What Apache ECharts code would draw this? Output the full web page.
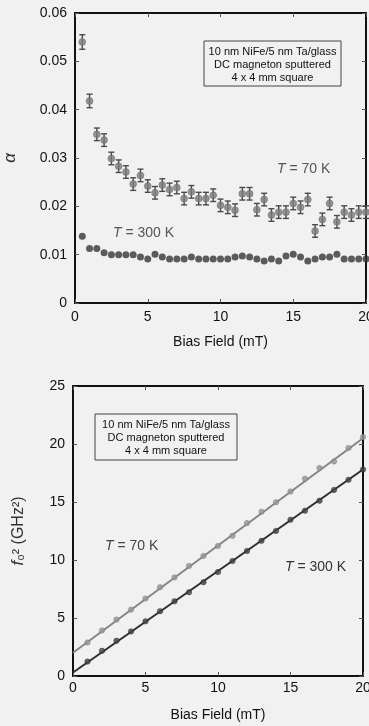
<!DOCTYPE html>
<html>
<head>
<meta charset="utf-8">
<script src="https://cdn.jsdelivr.net/npm/echarts@6/dist/echarts.min.js"></script>
<style>
html,body{margin:0;padding:0;background:#f1f1f1;}
#c{width:369px;height:726px;}
</style>
</head>
<body>
<div id="c"></div>
<script>
// ---- Top panel: damping alpha vs bias field ----
var biasTop = [0.5,1,1.5,2,2.5,3,3.5,4,4.5,5,5.5,6,6.5,7,7.5,8,8.5,9,9.5,10,
               10.5,11,11.5,12,12.5,13,13.5,14,14.5,15,15.5,16,16.5,17,17.5,18,18.5,19,19.5,20];
var alpha70 = [0.054,0.0418,0.0349,0.0337,0.0299,0.0283,0.0271,0.0246,0.0264,0.0242,
               0.0228,0.0244,0.0235,0.0239,0.0216,0.023,0.0216,0.0216,0.0223,0.0202,
               0.0198,0.0192,0.0226,0.0226,0.0193,0.0214,0.0182,0.0188,0.0188,0.0206,
               0.0198,0.0214,0.0149,0.0173,0.0206,0.0168,0.0188,0.0182,0.0188,0.0188];
var err70 = [0.0015,0.0014,0.0013,0.0013,0.0013,0.0013,0.0013,0.0013,0.0013,0.0013,
             0.0013,0.0013,0.0013,0.0013,0.0013,0.0013,0.0013,0.0013,0.0013,0.0013,
             0.0013,0.0013,0.0013,0.0013,0.0013,0.0013,0.0013,0.0013,0.0013,0.0013,
             0.0013,0.0013,0.0013,0.0013,0.0013,0.0013,0.0013,0.0013,0.0013,0.0013];
var alpha300 = [0.0138,0.0113,0.0113,0.0104,0.0100,0.0100,0.0100,0.0100,0.0095,0.0091,
                0.0101,0.0095,0.0091,0.0091,0.0091,0.0095,0.0091,0.0091,0.0091,0.0091,
                0.0091,0.0095,0.0097,0.0095,0.0091,0.0087,0.0091,0.0087,0.0097,0.0101,
                0.0095,0.0087,0.0091,0.0095,0.0095,0.0101,0.0091,0.0091,0.0091,0.0091];

// ---- Bottom panel: f0^2 vs bias field ----
var biasBot = [1,2,3,4,5,6,7,8,9,10,11,12,13,14,15,16,17,18,19,20];
var f2_70  = [2.89,3.93,4.86,5.72,6.68,7.66,8.5,9.48,10.35,11.21,
              12.08,13.18,14.16,14.98,15.9,17.0,17.93,18.5,19.66,20.6];
var f2_300 = [1.24,2.17,3.04,3.84,4.71,5.58,6.44,7.22,8.09,8.96,
              9.91,10.78,11.65,12.51,13.47,14.25,15.11,16.04,16.91,17.8];
var fitX = [0,20];
var fit70 = [2.0,20.5];
var fit300 = [0.3,17.8];

var boxLines = ['10 nm NiFe/5 nm Ta/glass','DC magneton sputtered','4 x 4 mm square'];

var FONT = '"Liberation Sans", Arial, sans-serif';
var chart = echarts.init(document.getElementById('c'), null, {renderer:'canvas'});

function xAx(grid, pos, show, margin) {
  return {
    type:'value', gridIndex:grid, position:pos, min:0, max:20, interval:5,
    axisLine:{show:true, onZero:false, lineStyle:{color:'#111', width:2}},
    axisTick:{show:true, inside:true, length:4, lineStyle:{color:'#555'}},
    axisLabel:{show:show, color:'#111', fontSize:14, fontFamily:FONT, margin:margin||0},
    splitLine:{show:false},
    name: show ? 'Bias Field (mT)' : '', nameLocation:'middle', nameGap:32,
    nameTextStyle:{color:'#111', fontSize:14, fontFamily:FONT}
  };
}
function yAx(grid, pos, show, max, interval, fmt, name, gap) {
  return {
    type:'value', gridIndex:grid, position:pos, min:0, max:max, interval:interval,
    axisLine:{show:true, onZero:false, lineStyle:{color:'#111', width:2}},
    axisTick:{show:true, inside:true, length:4, lineStyle:{color:'#555'}},
    axisLabel:{show:show, color:'#111', fontSize:14, fontFamily:FONT, margin:8, formatter:fmt},
    splitLine:{show:false},
    name: name || '', nameLocation:'middle', nameGap:gap || 0, nameRotate:90,
    nameTextStyle:{color:'#333', fontSize:16, fontFamily:FONT, rich:{
      it:{fontStyle:'italic', fontSize:17, fontFamily:FONT, color:'#333'},
      n:{fontSize:16, fontFamily:FONT, color:'#333'}
    }}
  };
}

var errData = biasTop.map(function(b,i){ return [b, alpha70[i], err70[i]]; });

function tLabel(x, y, num, col) {
  return {type:'text', z:11, x:x, y:y,
    style:{rich:{i:{fontStyle:'italic', fontSize:14, fontFamily:FONT, fill:col},
                 n:{fontSize:14, fontFamily:FONT, fill:col}},
           text:'{i|T}{n| = ' + num + ' K}'}};
}

var option = {
  backgroundColor:'#f1f1f1',
  animation:false,
  grid:[
    {left:75, right:3, top:13, bottom:423, containLabel:false, outerBoundsMode:'none'},
    {left:73, right:6, top:386, bottom:50, containLabel:false, outerBoundsMode:'none'}
  ],
  xAxis:[ xAx(0,'bottom',true,7), xAx(0,'top',false), xAx(1,'bottom',true,5), xAx(1,'top',false) ],
  yAxis:[
    yAx(0,'left',true,0.06,0.01,function(v){ return v===0 ? '0' : v.toFixed(2); }, '{it|\u03b1}', 56),
    yAx(0,'right',false,0.06,0.01,null,'',0),
    yAx(1,'left',true,25,5,function(v){ return String(v); }, '{it|f}{n|\u2080\u00b2 (GHz\u00b2)}', 46),
    yAx(1,'right',false,25,5,null,'',0)
  ],
  series:[
    {
      type:'custom', xAxisIndex:0, yAxisIndex:0, data:errData, z:3,
      renderItem:function(params, api){
        var x = api.value(0), y = api.value(1), e = api.value(2);
        var t = api.coord([x, y + e]), b = api.coord([x, y - e]);
        var hw = 3, st = {stroke:'#4a4a4a', lineWidth:1.4};
        return {type:'group', children:[
          {type:'line', shape:{x1:t[0], y1:t[1], x2:b[0], y2:b[1]}, style:st},
          {type:'line', shape:{x1:t[0]-hw, y1:t[1], x2:t[0]+hw, y2:t[1]}, style:st},
          {type:'line', shape:{x1:b[0]-hw, y1:b[1], x2:b[0]+hw, y2:b[1]}, style:st}
        ]};
      }
    },
    {
      type:'scatter', xAxisIndex:0, yAxisIndex:0, z:4,
      data: biasTop.map(function(b,i){ return [b, alpha70[i]]; }),
      symbol:'circle', symbolSize:7,
      itemStyle:{color:'#7b7b7b', borderColor:'#666', borderWidth:0.5}
    },
    {
      type:'scatter', xAxisIndex:0, yAxisIndex:0, z:4,
      data: biasTop.map(function(b,i){ return [b, alpha300[i]]; }),
      symbol:'circle', symbolSize:7,
      itemStyle:{color:'#363636'}
    },
    {
      type:'line', xAxisIndex:2, yAxisIndex:2, z:3,
      data: fitX.map(function(x,i){ return [x, fit70[i]]; }),
      symbol:'none', lineStyle:{color:'#858585', width:2}
    },
    {
      type:'line', xAxisIndex:2, yAxisIndex:2, z:3,
      data: fitX.map(function(x,i){ return [x, fit300[i]]; }),
      symbol:'none', lineStyle:{color:'#2e2e2e', width:2}
    },
    {
      type:'scatter', xAxisIndex:2, yAxisIndex:2, z:4,
      data: biasBot.map(function(b,i){ return [b, f2_70[i]]; }),
      symbol:'circle', symbolSize:5.5,
      itemStyle:{color:'#959595', borderColor:'#7a7a7a', borderWidth:0.5}
    },
    {
      type:'scatter', xAxisIndex:2, yAxisIndex:2, z:4,
      data: biasBot.map(function(b,i){ return [b, f2_300[i]]; }),
      symbol:'circle', symbolSize:5.5,
      itemStyle:{color:'#444', borderColor:'#222', borderWidth:0.5}
    }
  ],
  graphic:[
    {type:'rect', x:204, y:41, z:10, shape:{width:137, height:45},
     style:{fill:'#f1f1f1', stroke:'#444', lineWidth:1}},
    {type:'text', z:11, x:272.5, y:45.5,
     style:{text:boxLines.join('\n'), fill:'#111', font:'11px '+FONT, align:'center', lineHeight:13}},
    {type:'rect', x:95, y:414, z:10, shape:{width:142, height:46},
     style:{fill:'#f1f1f1', stroke:'#444', lineWidth:1}},
    {type:'text', z:11, x:166, y:418,
     style:{text:boxLines.join('\n'), fill:'#111', font:'11px '+FONT, align:'center', lineHeight:13}},
    tLabel(277, 162, '70', '#555'),
    tLabel(113, 226, '300', '#555'),
    tLabel(105, 539, '70', '#444'),
    tLabel(285, 560, '300', '#333')
  ]
};
chart.setOption(option);
</script>
</body>
</html>
